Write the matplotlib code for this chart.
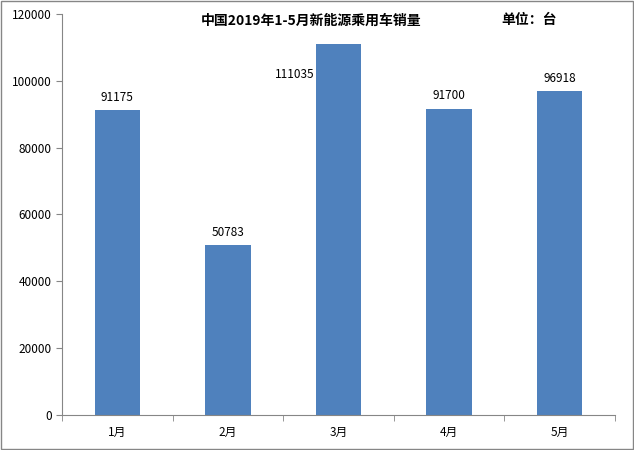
import matplotlib.pyplot as plt
from matplotlib.patches import Rectangle

plt.rcParams['font.family'] = ['Noto Sans CJK SC']

months = ['1月', '2月', '3月', '4月', '5月']
sales = [91175, 50783, 111035, 91700, 96918]
yticks = [0, 20000, 40000, 60000, 80000, 100000, 120000]

fig = plt.figure(figsize=(6.34, 4.5), dpi=100)
ax = fig.add_axes([0.098, 0.078, 0.872, 0.891])

x = range(len(months))
bars = ax.bar(x, sales, width=0.41, color='#4F81BD')

for i, v in enumerate(sales):
    if v > 105000:
        # label doesn't fit above the bar, placed to its left like the original
        ax.text(i - 0.22, v - 11000, str(v), ha='right', va='bottom', fontsize=8.5)
    else:
        ax.text(i, v + 1800, str(v), ha='center', va='bottom', fontsize=8.5)

ax.set_xlim(-0.5, len(months) - 0.5)
ax.set_ylim(0, 120000)
ax.set_yticks(yticks)
ax.set_yticklabels([str(t) for t in yticks], fontsize=8.5)
ax.set_xticks(list(x))
ax.set_xticklabels(months, fontsize=8.5)
ax.set_xticks([i + 0.5 for i in range(-1, len(months))], minor=True)
ax.tick_params(axis='x', which='major', length=0, pad=8)
ax.tick_params(axis='x', which='minor', length=4, color='#868686')
ax.tick_params(axis='y', length=4, color='#868686')
for s in ['top', 'right']:
    ax.spines[s].set_visible(False)
for s in ['left', 'bottom']:
    ax.spines[s].set_color('#868686')

fig.text(0.49, 0.955, '中国2019年1-5月新能源乘用车销量', ha='center', va='center',
         fontsize=10, fontweight='bold')
fig.text(0.835, 0.955, '单位：台', ha='center', va='center', fontsize=10, fontweight='bold')

fig.patches.append(Rectangle((0.002, 0.002), 0.996, 0.996, transform=fig.transFigure,
                             fill=False, edgecolor='#868686', linewidth=1))

fig.savefig('out.png', dpi=100)
